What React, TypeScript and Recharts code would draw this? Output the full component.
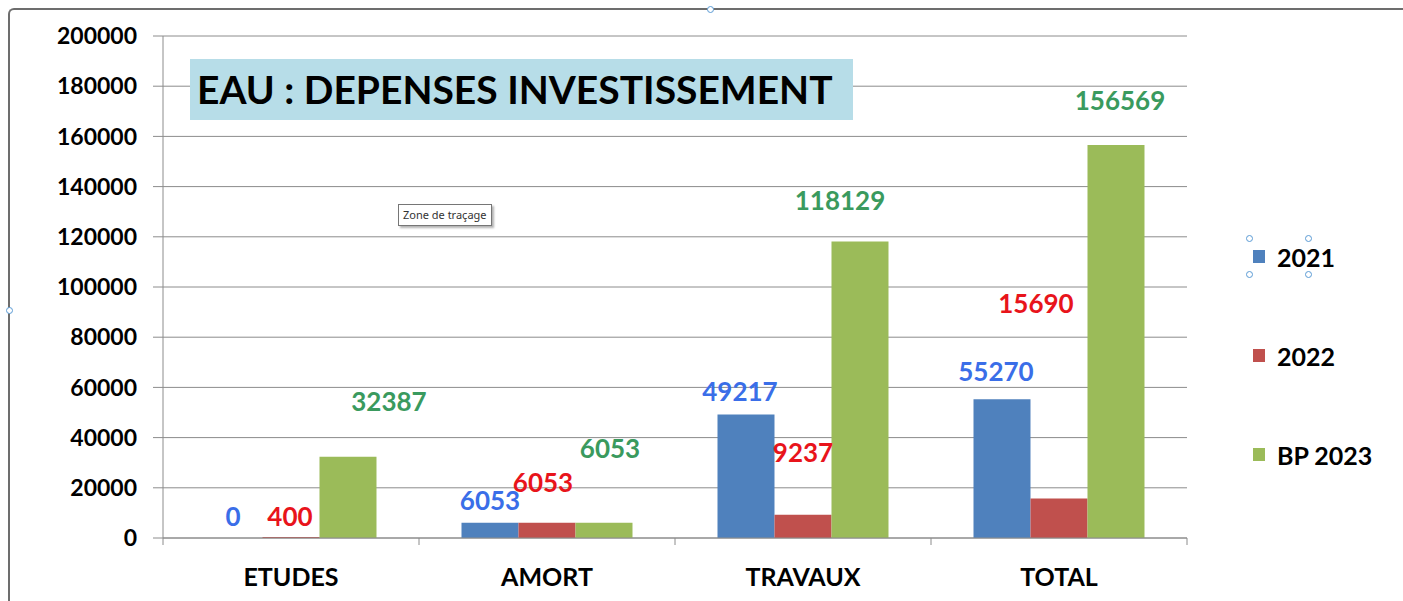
import { Bar, BarChart, CartesianGrid, LabelList, Legend, XAxis, YAxis } from "recharts";

const categories = ["ETUDES", "AMORT", "TRAVAUX", "TOTAL"];
const values2021 = [0, 6053, 49217, 55270];
const values2022 = [400, 6053, 9237, 15690];
const valuesBp2023 = [32387, 6053, 118129, 156569];
const yTicks = [0, 20000, 40000, 60000, 80000, 100000, 120000, 140000, 160000, 180000, 200000];

// labels were dragged by hand in the original sheet: nudge [dx, dy] from bar top-center
const shift2021 = [[-1, -22], [0, -23], [-6, -23], [-6, -28]];
const shift2022 = [[-1, -21], [-4, -41], [0, -63], [-23, -196]];
const shiftBp2023 = [[41, -56], [6, -75], [-20, -41], [4, -45]];

const data = categories.map((name, i) => ({
  name,
  y2021: values2021[i],
  y2022: values2022[i],
  bp2023: valuesBp2023[i],
}));

const FONT = "Lato, 'Open Sans', sans-serif";
const AXIS = "#8c8c8c";
const X_TICK_MARGIN = 30;

const series = [
  { key: "y2021", label: "2021", fill: "#4f81bd", text: "#3a6ee8", shift: shift2021 },
  { key: "y2022", label: "2022", fill: "#c0504d", text: "#e8141b", shift: shift2022 },
  { key: "bp2023", label: "BP 2023", fill: "#9bbb59", text: "#3a9a5e", shift: shiftBp2023 },
];

function makeLabel(color: string, shift: number[][]) {
  return (props: any) => {
    const { x, y, width, value, index } = props;
    const [dx, dy] = shift[index] ?? [0, -20];
    return (
      <text
        x={Number(x) + Number(width) / 2 + dx}
        y={Number(y) + dy}
        textAnchor="middle"
        dominantBaseline="central"
        fill={color}
        fontFamily={FONT}
        fontWeight={700}
        fontSize={26}
      >
        {String(value)}
      </text>
    );
  };
}

// category label plus Excel-style tick marks on the band edges
function CategoryTick(props: any) {
  const { x, y, payload, index, visibleTicksCount } = props;
  const half = payload?.offset ?? 0;
  const axisY = y - X_TICK_MARGIN;
  const isLast = index === visibleTicksCount - 1;
  return (
    <g>
      <line x1={x - half} x2={x - half} y1={axisY} y2={axisY + 7} stroke={AXIS} />
      {isLast && <line x1={x + half} x2={x + half} y1={axisY} y2={axisY + 7} stroke={AXIS} />}
      <text x={x} y={y} dy="0.71em" textAnchor="middle" fill="#000" fontFamily={FONT} fontWeight={700} fontSize={25}>
        {payload.value}
      </text>
    </g>
  );
}

function LegendBox() {
  return (
    <div style={{ fontFamily: FONT, fontWeight: 700, fontSize: 25, color: "#000" }}>
      {series.map((s) => (
        <div key={s.key} style={{ display: "flex", alignItems: "center", height: 99 }}>
          <span style={{ width: 12, height: 13, background: s.fill, marginRight: 12, display: "inline-block" }} />
          <span>{s.label}</span>
        </div>
      ))}
    </div>
  );
}

const handle = (left: number, top: number) => (
  <div
    style={{
      position: "absolute",
      left: left - 3,
      top: top - 3,
      width: 5,
      height: 5,
      borderRadius: "50%",
      border: "1px solid #5b9bd5",
      background: "#fff",
    }}
  />
);

export default function App() {
  return (
    <div style={{ position: "absolute", left: 0, top: 0, width: 1403, height: 601, background: "#fff", overflow: "hidden" }}>
      <div style={{ position: "absolute", left: 8, top: 8, right: 0, bottom: -10, borderTop: "2px solid #6d6d6d", borderLeft: "2px solid #6d6d6d", borderTopLeftRadius: 6 }} />
      <BarChart
        width={1403}
        height={601}
        data={data}
        margin={{ top: 36, right: 76, bottom: 0, left: 0 }}
        barCategoryGap="16.6%"
        barGap={0}
        style={{ position: "absolute", left: 0, top: 0 }}
      >
        <CartesianGrid vertical={false} stroke={AXIS} />
        <XAxis
          dataKey="name"
          height={63}
          tickLine={false}
          tickSize={0}
          axisLine={{ stroke: AXIS }}
          tickMargin={X_TICK_MARGIN}
          interval={0}
          tick={<CategoryTick />}
        />
        <YAxis
          width={163}
          domain={[0, 200000]}
          ticks={yTicks}
          interval={0}
          tickSize={10}
          tickMargin={16}
          axisLine={{ stroke: AXIS }}
          tickLine={{ stroke: AXIS }}
          tick={{ fill: "#000", fontFamily: FONT, fontWeight: 700, fontSize: 23 }}
        />
        <Legend
          layout="horizontal"
          verticalAlign="middle"
          align="right"
          content={() => <LegendBox />}
          wrapperStyle={{ position: "absolute", left: 1253, top: 207, width: 140 }}
        />
        {series.map((s) => (
          <Bar
            key={s.key}
            dataKey={s.key}
            name={s.label}
            fill={s.fill}
            minPointSize={(v: number) => (v === 0 ? 0.01 : 0)}
            isAnimationActive={false}
          >
            <LabelList dataKey={s.key} content={makeLabel(s.text, s.shift)} />
          </Bar>
        ))}
      </BarChart>
      <div
        style={{
          position: "absolute",
          left: 190,
          top: 59,
          width: 663,
          height: 61,
          background: "#b7dde8",
          fontFamily: FONT,
          fontWeight: 700,
          fontSize: 39,
          lineHeight: "61px",
          paddingLeft: 7,
          boxSizing: "border-box",
          color: "#000",
          whiteSpace: "nowrap",
        }}
      >
        EAU : DEPENSES INVESTISSEMENT
      </div>
      <div
        style={{
          position: "absolute",
          left: 398,
          top: 204,
          height: 20,
          padding: "0 4px",
          border: "1px solid #767676",
          background: "#fff",
          boxShadow: "2px 2px 2px rgba(0,0,0,0.3)",
          fontFamily: "'Segoe UI', 'Noto Sans', sans-serif",
          fontSize: 11,
          lineHeight: "20px",
          color: "#333",
        }}
      >
        Zone de traçage
      </div>
      {handle(1249, 238)}
      {handle(1308, 238)}
      {handle(1249, 274)}
      {handle(1308, 274)}
      {handle(710, 9)}
      {handle(9, 310)}
    </div>
  );
}
